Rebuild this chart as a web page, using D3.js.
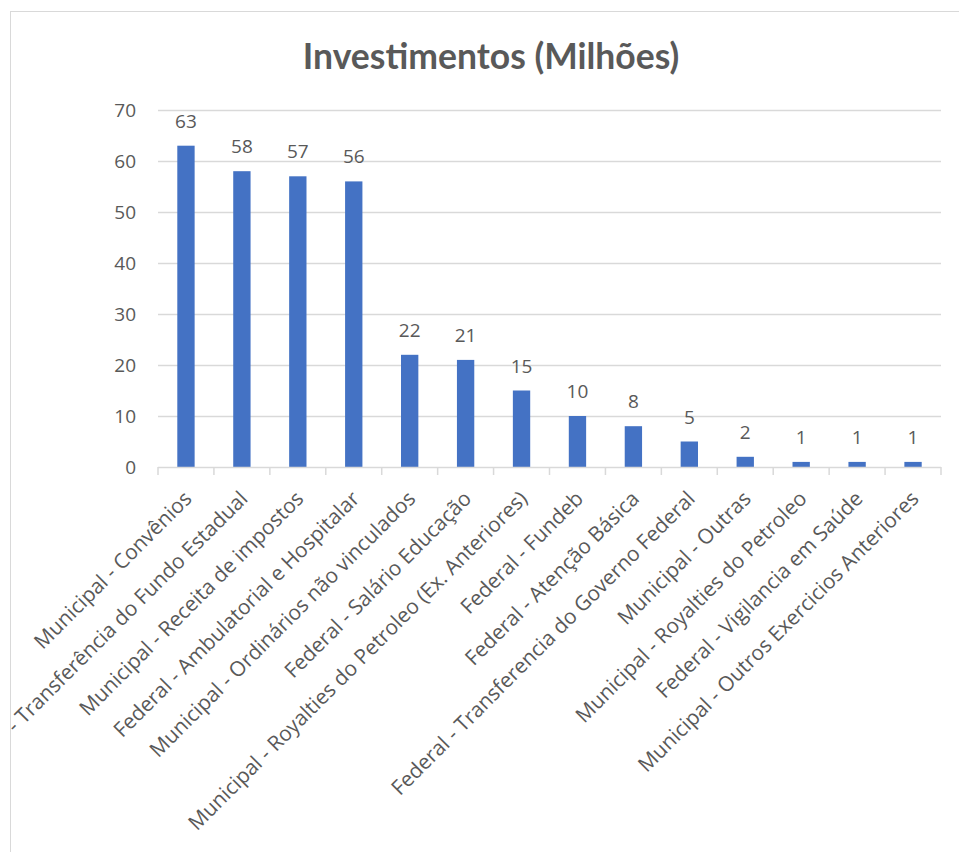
<!DOCTYPE html>
<html>
<head>
<meta charset="utf-8">
<script src="https://cdn.jsdelivr.net/npm/d3@7"></script>
<style>
  html, body { margin: 0; padding: 0; background: #fff; }
  svg { display: block; }
  text { font-family: "Open Sans", Lato, sans-serif; fill: #595959; }
</style>
</head>
<body>
<svg id="chart" width="959" height="852"></svg>
<script>
// Investment sources and their amounts (in millions)
const categories = [
  "Municipal - Convênios",
  "Estadual - Transferência do Fundo Estadual",
  "Municipal - Receita de impostos",
  "Federal - Ambulatorial e Hospitalar",
  "Municipal - Ordinários não vinculados",
  "Federal - Salário Educação",
  "Municipal - Royalties do Petroleo (Ex. Anteriores)",
  "Federal - Fundeb",
  "Federal - Atenção Básica",
  "Federal - Transferencia do Governo Federal",
  "Municipal - Outras",
  "Municipal - Royalties do Petroleo",
  "Federal - Vigilancia em Saúde",
  "Municipal - Outros Exercicios Anteriores"
];
const values = [63, 58, 57, 56, 22, 21, 15, 10, 8, 5, 2, 1, 1, 1];
const yTicks = [0, 10, 20, 30, 40, 50, 60, 70];
const title = "Investimentos (Milhões)";

const svg = d3.select("#chart");
const plot = { left: 158, right: 941, top: 110, bottom: 467 };

// Chart frame
svg.append("rect")
  .attr("x", 10.5).attr("y", 11.5)
  .attr("width", 1000).attr("height", 1000)
  .attr("fill", "none").attr("stroke", "#d9d9d9").attr("stroke-width", 1);

svg.append("clipPath").attr("id", "frame")
  .append("rect").attr("x", 11).attr("y", 12).attr("width", 1000).attr("height", 1000);

const x = d3.scaleBand()
  .domain(categories)
  .range([plot.left, plot.right])
  .paddingInner(0.69)
  .paddingOuter(0.345);

const y = d3.scaleLinear()
  .domain([0, 70])
  .range([plot.bottom, plot.top]);

// Title
svg.append("text")
  .attr("x", 491).attr("y", 69)
  .attr("text-anchor", "middle")
  .style("font-family", "Lato, sans-serif")
  .style("font-size", "35.5px").style("font-weight", "bold")
  .text(title);

// Horizontal gridlines
svg.append("g")
  .selectAll("line")
  .data(yTicks.filter(t => t > 0))
  .join("line")
  .attr("x1", plot.left).attr("x2", plot.right)
  .attr("y1", d => Math.round(y(d)) + 0.5).attr("y2", d => Math.round(y(d)) + 0.5)
  .attr("stroke", "#d9d9d9").attr("stroke-width", 1.5);

// Value axis labels
const yAxis = d3.axisLeft(y).tickValues(yTicks).tickSize(0).tickPadding(0);
const gy = svg.append("g").attr("transform", `translate(136,0)`).call(yAxis);
gy.select(".domain").remove();
gy.selectAll("text")
  .style("font-size", "19px")
  .style("font-family", "'Open Sans', sans-serif")
  .attr("fill", "#595959");

// Bars
svg.append("g")
  .selectAll("rect")
  .data(values)
  .join("rect")
  .attr("x", (d, i) => x(categories[i]))
  .attr("width", x.bandwidth())
  .attr("y", d => y(d))
  .attr("height", d => y(0) - y(d))
  .attr("fill", "#4472c4");

// Value labels
svg.append("g")
  .selectAll("text")
  .data(values)
  .join("text")
  .attr("x", (d, i) => x(categories[i]) + x.bandwidth() / 2)
  .attr("y", d => y(d) - 18)
  .attr("text-anchor", "middle")
  .style("font-size", "19px")
  .text(d => d);

// Category axis line with boundary ticks
const step = x.step();
const gx = svg.append("g");
gx.append("line")
  .attr("x1", plot.left).attr("x2", plot.right)
  .attr("y1", plot.bottom + 0.5).attr("y2", plot.bottom + 0.5)
  .attr("stroke", "#d9d9d9").attr("stroke-width", 1.5);
gx.selectAll("line.tick")
  .data(d3.range(categories.length + 1))
  .join("line")
  .attr("class", "tick")
  .attr("x1", i => plot.left + i * step).attr("x2", i => plot.left + i * step)
  .attr("y1", plot.bottom).attr("y2", plot.bottom + 8)
  .attr("stroke", "#d9d9d9").attr("stroke-width", 1.5);

// Rotated category labels
svg.append("g")
  .attr("clip-path", "url(#frame)")
  .selectAll("text")
  .data(categories)
  .join("text")
  .attr("text-anchor", "end")
  .attr("transform", d => `translate(${x(d) + x.bandwidth() / 2 + 7},500) rotate(-45)`)
  .style("font-size", "20.8px")
  .text(d => d);
</script>
</body>
</html>
